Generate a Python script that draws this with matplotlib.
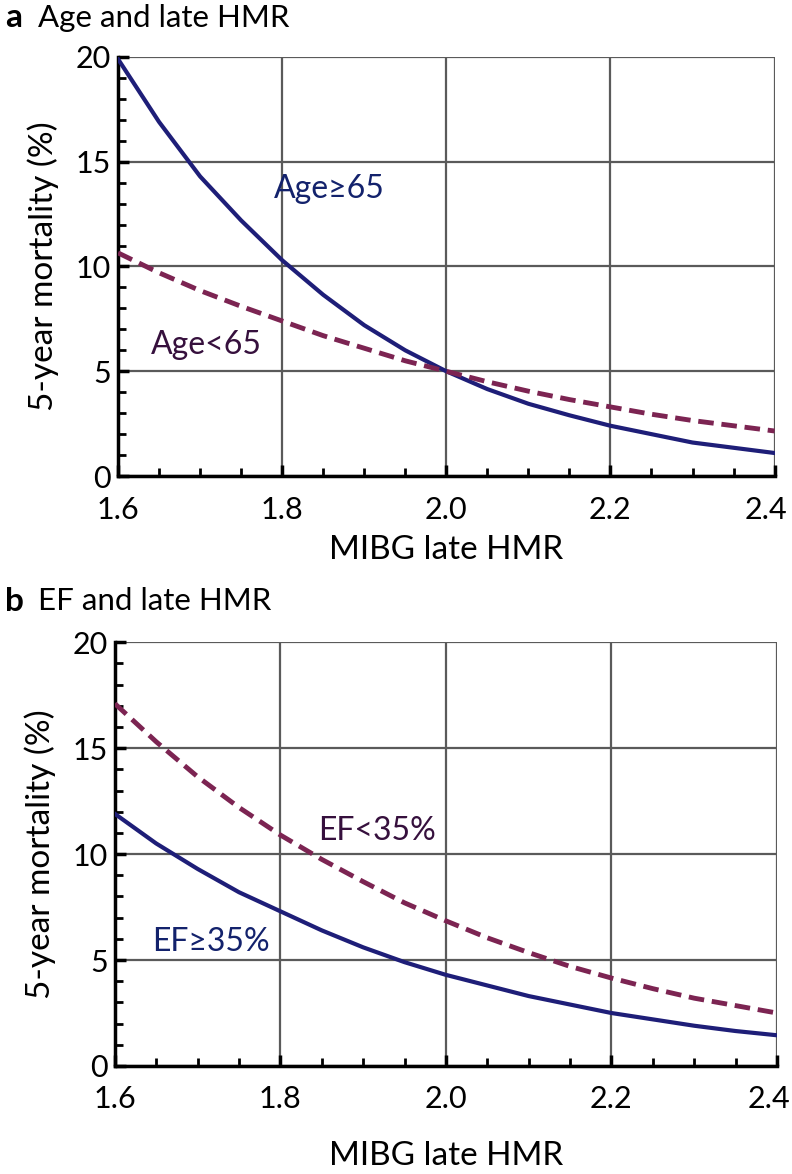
import matplotlib.pyplot as plt
import numpy as np
from matplotlib.ticker import MultipleLocator
from matplotlib.transforms import ScaledTranslation

plt.rcParams['font.family'] = ['Lato', 'DejaVu Sans']

# MIBG late HMR sample points
hmr = [1.60, 1.65, 1.70, 1.75, 1.80, 1.85, 1.90, 1.95, 2.00,
       2.05, 2.10, 2.15, 2.20, 2.25, 2.30, 2.35, 2.40]

# panel a: age groups (5-year mortality, %)
age_ge65 = [19.9, 16.9, 14.3, 12.2, 10.3, 8.65, 7.2, 6.0, 5.0,
            4.15, 3.45, 2.9, 2.4, 2.0, 1.6, 1.35, 1.1]
age_lt65 = [10.65, 9.7, 8.85, 8.1, 7.4, 6.7, 6.1, 5.5, 5.0,
            4.5, 4.05, 3.65, 3.3, 2.95, 2.65, 2.4, 2.15]

# panel b: EF groups (5-year mortality, %)
ef_ge35 = [11.9, 10.5, 9.3, 8.2, 7.3, 6.4, 5.6, 4.9, 4.3,
           3.8, 3.3, 2.9, 2.5, 2.2, 1.9, 1.65, 1.45]
ef_lt35 = [17.1, 15.3, 13.65, 12.2, 10.9, 9.75, 8.7, 7.7, 6.85,
           6.05, 5.35, 4.7, 4.15, 3.65, 3.2, 2.85, 2.5]

xticks = [1.6, 1.8, 2.0, 2.2, 2.4]
xticklabels = ['1.6', '1.8', '2.0', '2.2', '2.4']
yticks = [0, 5, 10, 15, 20]

navy = '#1e1e78'
maroon = '#7c2452'
navy_txt = '#13226c'
purple_txt = '#36103d'

fig = plt.figure(figsize=(7.92, 11.74), dpi=100)
ax_a = fig.add_axes([0.149, 0.5945, 0.829, 0.357])
ax_b = fig.add_axes([0.145, 0.092, 0.836, 0.361])


def style(ax):
    ax.set_xlim(1.6, 2.4)
    ax.set_ylim(0, 20)
    ax.set_xticks(xticks)
    ax.set_xticklabels(xticklabels)
    ax.set_yticks(yticks)
    ax.xaxis.set_minor_locator(MultipleLocator(0.05))
    ax.yaxis.set_minor_locator(MultipleLocator(1))
    ax.grid(True, which='major', color='#5a5a5a', linewidth=1.6)
    ax.set_axisbelow(True)
    for s in ['top', 'right']:
        ax.spines[s].set_visible(False)
    for s in ['left', 'bottom']:
        ax.spines[s].set_linewidth(2.5)
        ax.spines[s].set_color('black')
        ax.spines[s].set_zorder(3)
    ax.tick_params(axis='both', which='major', direction='in', length=8, width=2.5,
                   labelsize=22)
    ax.tick_params(axis='both', which='minor', direction='in', length=6, width=2)
    ax.tick_params(axis='x', which='major', pad=14)
    ax.tick_params(axis='y', which='major', pad=5)
    ax.set_ylabel('5-year mortality (%)', fontsize=24, labelpad=12)
    # keep the last x label inside the figure
    last = ax.get_xticklabels()[-1]
    last.set_transform(last.get_transform() + ScaledTranslation(-6 / 72, 0, fig.dpi_scale_trans))


# panel a
ax_a.plot(hmr, age_ge65, color=navy, linewidth=3, zorder=4)
ax_a.plot(hmr, age_lt65, color=maroon, linewidth=3.5, linestyle=(0, (3.2, 1.6)), zorder=4)
style(ax_a)
ax_a.set_xlabel('MIBG late HMR', fontsize=24, labelpad=8)
ax_a.text(1.857, 13.7, 'Age≥65', color=navy_txt, fontsize=23, ha='center', va='center')
ax_a.text(1.708, 6.25, 'Age<65', color=purple_txt, fontsize=23, ha='center', va='center')
fig.text(0.006, 0.985, 'a', fontsize=24, fontweight='bold', va='center', ha='left')
fig.text(0.048, 0.985, 'Age and late HMR', fontsize=22.5, va='center', ha='left')

# panel b
ax_b.plot(hmr, ef_ge35, color=navy, linewidth=3, zorder=4)
ax_b.plot(hmr, ef_lt35, color=maroon, linewidth=3.5, linestyle=(0, (3.2, 1.6)), zorder=4)
style(ax_b)
ax_b.set_xlabel('MIBG late HMR', fontsize=24, labelpad=20)
ax_b.text(1.917, 11.1, 'EF<35%', color=purple_txt, fontsize=23, ha='center', va='center')
ax_b.text(1.716, 5.85, 'EF≥35%', color=navy_txt, fontsize=23, ha='center', va='center')
fig.text(0.006, 0.488, 'b', fontsize=24, fontweight='bold', va='center', ha='left')
fig.text(0.048, 0.488, 'EF and late HMR', fontsize=22.5, va='center', ha='left')

fig.savefig('out.png', dpi=100)
